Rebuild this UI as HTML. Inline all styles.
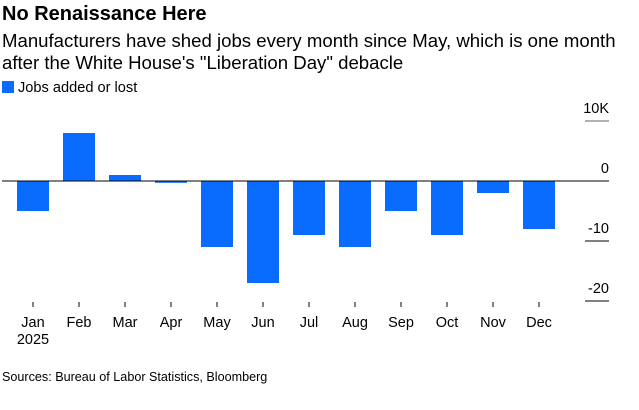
<!DOCTYPE html>
<html><head><meta charset="utf-8"><style>
body{margin:0;width:639px;height:410px;background:#fff;font-family:"Liberation Sans",Arial,sans-serif;overflow:hidden;position:relative}
.t{position:absolute;left:2px;white-space:nowrap;color:#000}
</style></head><body>
<div class="t" style="top:3px;font-size:20px;font-weight:bold">No Renaissance Here</div>
<div class="t" style="top:30px;font-size:18.6px;line-height:22px">Manufacturers have shed jobs every month since May, which is one month<br>after the White House's "Liberation Day" debacle</div>
<div class="t" style="top:80px;font-size:14.6px"><span style="display:inline-block;width:12px;height:12px;background:#0a6cff;vertical-align:-1px;margin-right:4px"></span>Jobs added or lost</div>
<div class="t" style="top:370px;font-size:12.6px">Sources: Bureau of Labor Statistics, Bloomberg</div>
<svg id="c" width="639" height="410" style="position:absolute;left:0;top:0"></svg>
<script>
const months=["Jan","Feb","Mar","Apr","May","Jun","Jul","Aug","Sep","Oct","Nov","Dec"];
const jobs=[-5,8,1,-0.3,-11,-17,-9,-11,-5,-9,-2,-8];
const ticks=[10,0,-10,-20];
const tickLabels=["10K","0","-10","-20"];
const NS="http://www.w3.org/2000/svg";
const svg=document.getElementById('c');
const y=v=>181-v*6;
const x=i=>33+i*46;
function mk(t,a){const e=document.createElementNS(NS,t);for(const k in a)e.setAttribute(k,a[k]);svg.appendChild(e);return e;}
ticks.forEach((t,i)=>{
 const l=mk('line',{x1:585,x2:609,y1:y(t),y2:y(t),stroke:t===10?'#666':'#000','stroke-width':1});
 
 
 const tx=mk('text',{x:609,y:y(t)-8,'text-anchor':'end','font-size':14.5,'font-family':'Liberation Sans, sans-serif'});
 tx.textContent=tickLabels[i];
 
 
});
jobs.forEach((v,i)=>{
 const r=mk('rect',{x:x(i)-16,width:32,y:Math.min(y(v),y(0)),height:Math.abs(y(v)-y(0)),fill:'#0a6cff'});
 
 
 const tk=mk('line',{x1:x(i),x2:x(i),y1:302,y2:307,stroke:'#000'});
 
 
 const tx=mk('text',{x:x(i),y:327,'text-anchor':'middle','font-size':14.5,'font-family':'Liberation Sans, sans-serif'});
 tx.textContent=months[i];
 
 
});
const zl=mk('line',{x1:2,x2:609,y1:y(0),y2:y(0),stroke:'#000','stroke-width':1});


const yr=mk('text',{x:x(0),y:344,'text-anchor':'middle','font-size':14.5,'font-family':'Liberation Sans, sans-serif'});
yr.textContent="2025";


</script>
</body></html>
